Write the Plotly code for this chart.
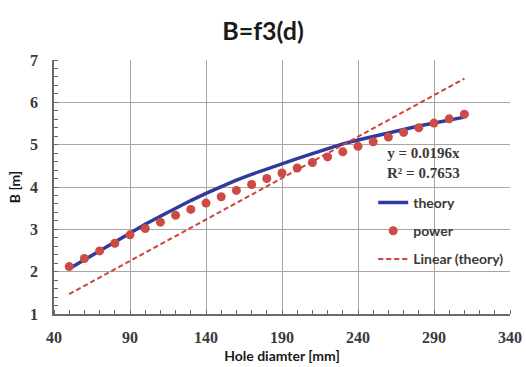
import plotly.graph_objects as go

# Data
d_values = [50, 60, 70, 80, 90, 100, 110, 120, 130, 140, 150, 160, 170, 180, 190,
            200, 210, 220, 230, 240, 250, 260, 270, 280, 290, 300, 310]
theory = [2.07, 2.28, 2.49, 2.71, 2.92, 3.12, 3.31, 3.50, 3.68, 3.85, 4.01, 4.16, 4.30,
          4.43, 4.55, 4.67, 4.79, 4.91, 5.02, 5.11, 5.20, 5.28, 5.36, 5.44, 5.51, 5.58, 5.65]
power = [2.12, 2.31, 2.49, 2.67, 2.87, 3.02, 3.17, 3.33, 3.47, 3.62, 3.77, 3.92, 4.06,
         4.20, 4.33, 4.45, 4.58, 4.71, 4.83, 4.96, 5.07, 5.18, 5.29, 5.40, 5.51, 5.61, 5.72]
trend_x = [50, 310]
trend_y = [1.47, 6.56]
x_ticks = [40, 90, 140, 190, 240, 290, 340]
y_ticks = [1, 2, 3, 4, 5, 6, 7]

FONT = "Lato"
SERIF = "Liberation Serif"
TXT = "#3a3a3a"
GRID = "#aca3a3"

fig = go.Figure()
fig.add_trace(go.Scatter(x=d_values, y=theory, mode="lines", name="theory",
                         legendgroup="a",
                         line=dict(color="#2f3b9c", width=3.5)))
fig.add_trace(go.Scatter(x=d_values, y=power, mode="markers", name="power",
                         legendgroup="b",
                         marker=dict(color="#cd4a45", size=9)))
fig.add_trace(go.Scatter(x=trend_x, y=trend_y, mode="lines", name="Linear (theory)",
                         legendgroup="c",
                         line=dict(color="#d0403c", width=2, dash="5px,3px")))

fig.update_layout(
    width=526, height=367,
    margin=dict(l=54, r=16, t=60, b=53, autoexpand=False),
    paper_bgcolor="white", plot_bgcolor="white",
    title=dict(text="B=f3(d)", x=0.5, xanchor="center", y=0.915, yanchor="middle",
               font=dict(family=FONT, size=25, color="#1a1a1a", weight="bold")),
    showlegend=True,
    legend=dict(x=0.70, y=0.50, xanchor="left", yanchor="top",
                bgcolor="rgba(0,0,0,0)", tracegroupgap=7,
                font=dict(family=FONT, size=14, color=TXT, weight="bold")),
    annotations=[dict(x=283, y=4.57, xref="x", yref="y", showarrow=False,
                      text="y = 0.0196x<br>R² = 0.7653", align="center",
                      font=dict(family=SERIF, size=15, color=TXT, weight="bold"))],
)

fig.update_xaxes(range=[40, 340], tickvals=x_ticks, showgrid=True, gridcolor=GRID,
                 gridwidth=1, showline=True, linecolor="#6a6a6a", linewidth=1.5,
                 ticks="", zeroline=False, ticklabelstandoff=8, automargin=False,
                 minor=dict(dtick=10, tick0=40, ticks="inside", ticklen=4,
                            tickcolor="#6a6a6a", showgrid=False),
                 tickfont=dict(family=SERIF, size=16, color=TXT, weight="bold"),
                 title=dict(text="Hole diamter [mm]", standoff=6,
                            font=dict(family=FONT, size=14, color="#1a1a1a", weight="bold")))
fig.update_yaxes(range=[1, 7], tickvals=y_ticks, showgrid=True, gridcolor=GRID,
                 gridwidth=1, showline=True, linecolor="#6a6a6a", linewidth=1.5,
                 ticks="", zeroline=False, ticklabelstandoff=11, automargin=False,
                 minor=dict(dtick=0.2, tick0=1, ticks="inside", ticklen=4,
                            tickcolor="#6a6a6a", showgrid=False),
                 tickfont=dict(family=SERIF, size=16, color=TXT, weight="bold"),
                 title=dict(text="B [m]", standoff=6,
                            font=dict(family=FONT, size=14, color="#1a1a1a", weight="bold")))

fig.write_html("out.html")
